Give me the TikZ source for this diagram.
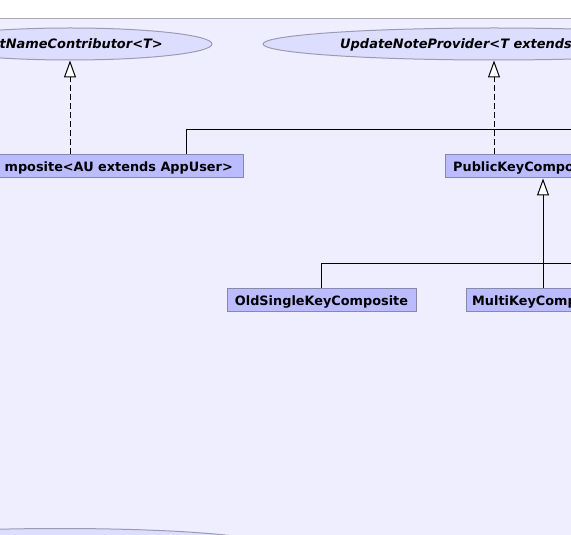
\documentclass[tikz,border=0pt]{standalone}
\usepackage{fontspec}
\setmainfont{DejaVu Sans}
\usetikzlibrary{arrows.meta,shapes.geometric}
\definecolor{panel}{HTML}{EEEEFF}
\definecolor{panelline}{HTML}{A8A8BC}
\definecolor{ellfill}{HTML}{DDDDFF}
\definecolor{elldraw}{HTML}{9C9CB0}
\definecolor{boxfill}{HTML}{BBBBFF}
\definecolor{boxdraw}{HTML}{8888AA}
\tikzset{
  ell/.style={ellipse, fill=ellfill, draw=elldraw, line width=1bp, inner sep=0pt, minimum height=32bp},
  umlbox/.style={rectangle, fill=boxfill, draw=boxdraw, line width=1bp, inner sep=0pt, minimum height=23bp},
  etext/.style={inner sep=0pt, font=\fontsize{13}{15}\selectfont\bfseries\itshape},
  btext/.style={inner sep=0pt, font=\fontsize{12.9}{15}\selectfont\bfseries},
  conn/.style={line width=1bp, black},
  realize/.style={conn, dash pattern=on 6bp off 3bp, -{Triangle[length=17bp, width=12bp, fill=white, line width=1bp]}},
  extend/.style={conn, -{Triangle[length=17bp, width=12bp, fill=white, line width=1bp]}}
}
\begin{document}
\begin{tikzpicture}[x=1bp, y=-1bp]
\useasboundingbox (0,0) rectangle (571,535);
\clip (0,0) rectangle (571,535);
\fill[white] (0,0) rectangle (571,535);
\fill[panel] (-5,19) rectangle (580,545);
\draw[panelline, line width=1bp] (-5,19) -- (580,19);

% ellipses (interfaces)
\node[ell, minimum width=284bp] (e1) at (70,44) {};
\node[ell, minimum width=462bp] (e2) at (494,44) {};
\node[ell, minimum width=410bp] (e3) at (60,544.5) {};
\node[etext, anchor=base east] (t1) at (163,49) {tNameContributor<T>};
\node[etext, anchor=base west] (t2) at (340,49) {UpdateNoteProvider<T extends};

% class boxes
\node[umlbox, minimum width=346bp] (comp) at (70,166.5) {};
\node[umlbox, minimum width=200bp] (pk) at (545,166.5) {};
\node[umlbox, minimum width=189bp] (old) at (321.5,299.5) {};
\node[umlbox, minimum width=200bp] (mk) at (566,299.5) {};
\node[btext, anchor=base east] (tc) at (233,171.5) {mposite<AU extends AppUser>};
\node[btext, anchor=base west] (tp) at (453,171.5) {PublicKeyCompo};
\node[btext, anchor=base] (to) at (321.5,305) {OldSingleKeyComposite};
\node[btext, anchor=base west] (tm) at (472,305) {MultiKeyComp};

% connectors
\coordinate (j1) at (186,130);
\coordinate (r1) at (580,130);
\coordinate (j2) at (543,263);
\coordinate (r2) at (580,263);
\draw[realize] (comp.north) -- (e1.south);
\draw[realize] (e2.south |- pk.north) -- (e2.south);
\draw[conn] (comp.north -| j1) |- (r1);
\draw[conn] (old.north) |- (r2);
\draw[extend] (mk.north -| j2) -- (pk.south -| j2);
\end{tikzpicture}
\end{document}
